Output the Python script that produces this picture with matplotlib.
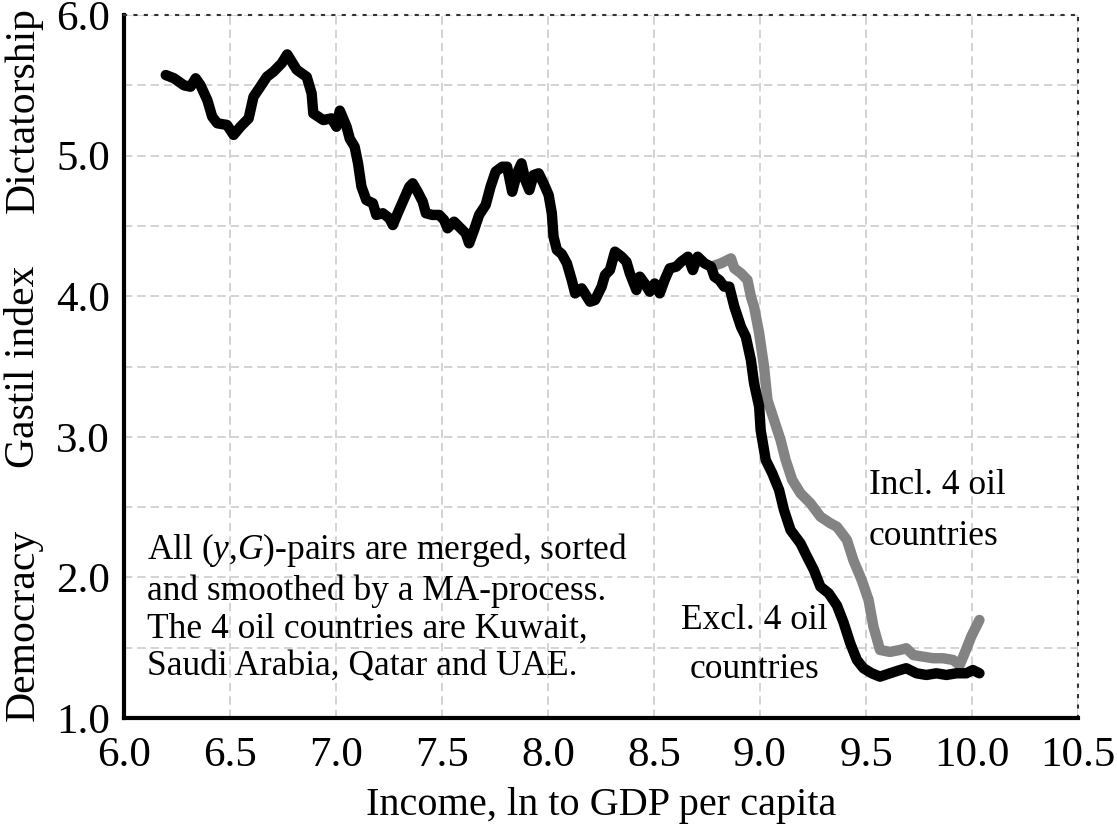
import matplotlib
matplotlib.use("Agg")
import matplotlib.pyplot as plt

plt.rcParams['font.family'] = ['Liberation Serif', 'DejaVu Serif']
plt.rcParams['mathtext.fontset'] = 'custom'
plt.rcParams['mathtext.rm'] = 'Liberation Serif'
plt.rcParams['mathtext.it'] = 'Liberation Serif:italic'

# smoothed Gastil index against log income, excluding the 4 oil countries
income_excl = [6.197, 6.236, 6.283, 6.314, 6.338, 6.361, 6.393, 6.416, 6.44, 6.486,
               6.517, 6.549, 6.588, 6.611, 6.643, 6.674, 6.705, 6.744, 6.77, 6.815,
               6.862, 6.885, 6.893, 6.94, 6.979, 7.002, 7.018, 7.05, 7.065, 7.088,
               7.104, 7.12, 7.143, 7.174, 7.19, 7.221, 7.252, 7.268, 7.291, 7.315,
               7.346, 7.362, 7.385, 7.409, 7.424, 7.455, 7.487, 7.51, 7.526, 7.557,
               7.581, 7.612, 7.628, 7.651, 7.675, 7.706, 7.729, 7.753, 7.784, 7.807,
               7.831, 7.854, 7.875, 7.893, 7.912, 7.932, 7.956, 7.979, 8.003, 8.018,
               8.026, 8.042, 8.065, 8.089, 8.112, 8.128, 8.159, 8.198, 8.222, 8.253,
               8.269, 8.292, 8.316, 8.347, 8.37, 8.386, 8.417, 8.433, 8.456, 8.48,
               8.503, 8.527, 8.55, 8.574, 8.605, 8.628, 8.66, 8.683, 8.706, 8.738,
               8.769, 8.785, 8.808, 8.831, 8.855, 8.879, 8.91, 8.933, 8.957, 8.972,
               8.996, 9.003, 9.027, 9.058, 9.09, 9.113, 9.144, 9.191, 9.222, 9.254,
               9.285, 9.324, 9.363, 9.394, 9.426, 9.457, 9.488, 9.527, 9.566, 9.613,
               9.66, 9.69, 9.738, 9.785, 9.832, 9.879, 9.926, 9.973, 10.004, 10.035]
gastil_excl = [5.573, 5.55, 5.50, 5.49, 5.55, 5.50, 5.395, 5.277, 5.23, 5.218,
               5.147, 5.205, 5.265, 5.419, 5.49, 5.561, 5.597, 5.657, 5.72, 5.61,
               5.56, 5.443, 5.30, 5.253, 5.265, 5.205, 5.32, 5.205, 5.12, 5.063,
               4.945, 4.78, 4.684, 4.661, 4.578, 4.59, 4.554, 4.506, 4.59, 4.673,
               4.779, 4.803, 4.743, 4.673, 4.59, 4.578, 4.578, 4.542, 4.483, 4.53,
               4.494, 4.447, 4.376, 4.47, 4.578, 4.649, 4.779, 4.886, 4.921, 4.921,
               4.743, 4.874, 4.945, 4.826, 4.755, 4.862, 4.874, 4.803, 4.72, 4.59,
               4.423, 4.329, 4.30, 4.234, 4.115, 4.02, 4.056, 3.961, 3.973, 4.068,
               4.151, 4.186, 4.317, 4.281, 4.245, 4.163, 4.044, 4.139, 4.091, 4.032,
               4.091, 4.02, 4.115, 4.198, 4.21, 4.245, 4.281, 4.186, 4.281, 4.234,
               4.21, 4.139, 4.115, 4.068, 4.068, 3.925, 3.783, 3.712, 3.546, 3.38,
               3.214, 3.048, 2.835, 2.74, 2.622, 2.479, 2.337, 2.242, 2.147, 2.053,
               1.934, 1.887, 1.80, 1.68, 1.53, 1.413, 1.354, 1.318, 1.294, 1.318,
               1.341, 1.354, 1.318, 1.306, 1.318, 1.306, 1.318, 1.318, 1.341, 1.318]

# upper tail including Kuwait, Saudi Arabia, Qatar and UAE
income_incl = [8.769, 8.816, 8.863, 8.879, 8.91, 8.941, 8.957, 8.972, 8.996, 9.019,
               9.035, 9.066, 9.097, 9.121, 9.152, 9.191, 9.238, 9.285, 9.332, 9.363,
               9.41, 9.44, 9.48, 9.512, 9.535, 9.566, 9.613, 9.66, 9.69, 9.723,
               9.77, 9.817, 9.863, 9.91, 9.942, 9.965, 9.996, 10.035]
gastil_incl = [4.21, 4.234, 4.269, 4.198, 4.163, 4.115, 3.997, 3.925, 3.736, 3.499,
               3.262, 3.12, 2.977, 2.835, 2.693, 2.598, 2.527, 2.432, 2.385, 2.36,
               2.266, 2.124, 1.98, 1.84, 1.65, 1.484, 1.47, 1.484, 1.496, 1.448,
               1.436, 1.425, 1.425, 1.413, 1.377, 1.46, 1.578, 1.697]

x_ticks = [6.0, 6.5, 7.0, 7.5, 8.0, 8.5, 9.0, 9.5, 10.0, 10.5]
y_ticks = [1.0, 1.5, 2.0, 2.5, 3.0, 3.5, 4.0, 4.5, 5.0, 5.5, 6.0]
y_labels = ['1.0', '', '2.0', '', '3.0', '', '4.0', '', '5.0', '', '6.0']

fig = plt.figure(figsize=(11.17, 8.25), dpi=100)
ax = fig.add_axes([0.1110, 0.1297, 0.8541, 0.8521])

ax.plot(income_incl, gastil_incl, color='#838383', lw=7.5,
        solid_capstyle='round', solid_joinstyle='round', zorder=3)
ax.plot(income_excl, gastil_excl, color='black', lw=7.5,
        solid_capstyle='round', solid_joinstyle='round', zorder=4)

ax.set_xlim(6.0, 10.5)
ax.set_ylim(1.0, 6.0)
ax.set_xticks(x_ticks)
ax.set_xticklabels([f'{v:.1f}' for v in x_ticks])
ax.set_yticks(y_ticks)
ax.set_yticklabels(y_labels)
ax.tick_params(length=0, labelsize=31)
ax.tick_params(axis='x', pad=13)
ax.tick_params(axis='y', pad=10)

ax.grid(True, color='#cccccc', linestyle=(0, (5, 3)), linewidth=1.2)
ax.set_axisbelow(True)

for side in ['left', 'bottom']:
    ax.spines[side].set_linewidth(3)
    ax.spines[side].set_color('black')
for side in ['top', 'right']:
    ax.spines[side].set_linestyle((0, (1, 4)))
    ax.spines[side].set_linewidth(1.5)
    ax.spines[side].set_color('#333333')

ax.set_xlabel('Income, ln to GDP per capita', fontsize=29, labelpad=9)

# three-part y axis caption
fig.text(0.021, 0.867, 'Dictatorship', rotation=90, fontsize=30, ha='center', va='center')
fig.text(0.021, 0.555, 'Gastil index', rotation=90, fontsize=30, ha='center', va='center')
fig.text(0.021, 0.242, 'Democracy', rotation=90, fontsize=30, ha='center', va='center')

ax.text(6.11, 2.33,
        'All ($y$,$G$)-pairs are merged, sorted\n'
        'and smoothed by a MA-process.\n'
        'The 4 oil countries are Kuwait,\n'
        'Saudi Arabia, Qatar and UAE.',
        fontsize=25.5, ha='left', va='top', linespacing=1.2)
ax.text(9.514, 2.77, 'Incl. 4 oil\ncountries', fontsize=25.5, ha='left', va='top',
        linespacing=1.7)
ax.text(8.972, 1.81, 'Excl. 4 oil\ncountries', fontsize=25.5, ha='center', va='top',
        linespacing=1.65)

fig.savefig('out.png', dpi=100)
